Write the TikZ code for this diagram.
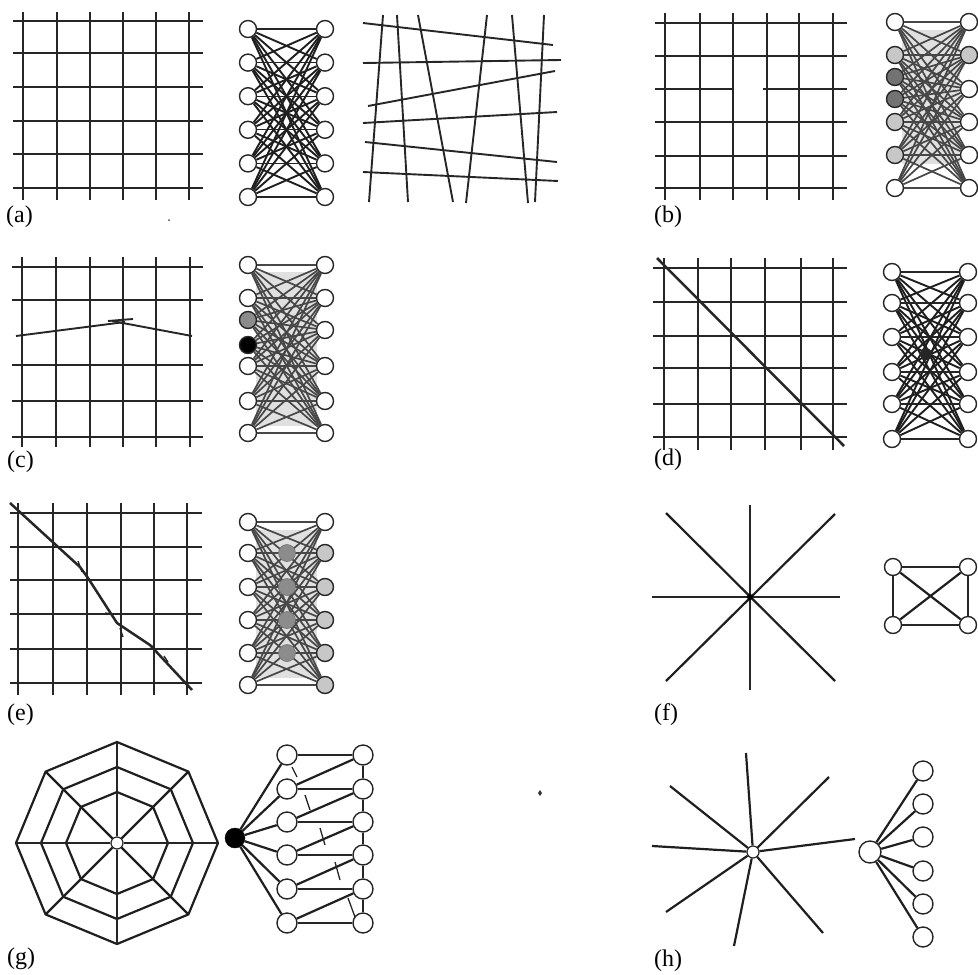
\documentclass[tikz,border=0pt]{standalone}
\usepackage{fontspec}
\setmainfont{Liberation Serif}
\definecolor{lg}{gray}{0.78}
\definecolor{dg}{gray}{0.45}
\definecolor{mg}{gray}{0.55}
\definecolor{bgg}{gray}{0.88}
\begin{document}
\begin{tikzpicture}[x=1pt,y=-1pt,
  gl/.style={line width=1.9pt, black!85},
  nd/.style={circle, draw=black!85, line width=1.4pt, fill=white, minimum size=17pt, inner sep=0pt},
  ed/.style={line width=1.9pt, black!88},
  edthin/.style={line width=1.1pt, black!85},
  ged/.style={line width=1.7pt, black!72},
  thk/.style={line width=2.2pt, black!88},
  thn/.style={line width=1.3pt, black!85},
  lbl/.style={font=\fontsize{24}{24}\selectfont, inner sep=0pt, anchor=west}]
\useasboundingbox (0,0) rectangle (978,975);

% ---------------- (a) ----------------
\foreach \x in {23,57,90,123,156,189} \draw[gl] (\x,12) -- (\x,200);
\foreach \y in {21,53,87,121,154,188} \draw[gl] (13,\y) -- (203,\y);
\foreach \i in {1,...,6} {
  \pgfmathsetmacro\yy{29+(\i-1)*33.6}
  \node[nd] (aL\i) at (248,\yy) {};
  \node[nd] (aR\i) at (325,\yy) {};
}
\foreach \i in {1,...,6}{\foreach \j in {1,...,6}{%
  \ifnum\i=\j \draw[edthin] (aL\i)--(aR\j); \else \draw[ed] (aL\i)--(aR\j); \fi}}
% skewed lines
\draw[gl] (363,23) -- (553,45);
\draw[gl] (363,63) -- (561,60);
\draw[gl] (368,106) -- (555,71);
\draw[gl] (363,123) -- (557,112);
\draw[gl] (365,142) -- (557,162);
\draw[gl] (363,172) -- (558,181);
\draw[gl] (383,15) -- (369,202);
\draw[gl] (397,15) -- (408,202);
\draw[gl] (418,15) -- (453,202);
\draw[gl] (487,15) -- (466,203);
\draw[gl] (512,15) -- (528,203);
\draw[gl] (544,15) -- (535,202);
\fill[black!70] (169,220) circle (1pt);
\node[lbl] (la) at (6,217) {(a)};

% ---------------- (b) ----------------
\foreach \x in {665,700,733,767,799,833} \draw[gl] (\x,13) -- (\x,200);
\foreach \y in {23,56,122,156,188} \draw[gl] (655,\y) -- (847,\y);
\draw[gl] (655,89) -- (734,89);
\draw[gl] (763,89) -- (847,89);
\fill[bgg] (902,30) rectangle (960,164);
\foreach \y/\c [count=\i] in {22/white,55/lg,77/dg,99/dg,122/lg,155/lg,188/white}
  \node[nd,fill=\c] (bL\i) at (895,\y) {};
\foreach \y/\c [count=\i] in {22/white,55/lg,89/white,122/white,155/white,188/white}
  \node[nd,fill=\c] (bR\i) at (969,\y) {};
\foreach \i in {1,...,7}{\foreach \j in {1,...,6}{\draw[ged] (bL\i)--(bR\j);}}
\node[lbl] (lb) at (654,217) {(b)};

% ---------------- (c) ----------------
\foreach \x in {22,56,90,123,156,190} \draw[gl] (\x,257) -- (\x,447);
\foreach \y in {267,300,365,401,437} \draw[gl] (12,\y) -- (203,\y);
\draw[gl] (16,336) -- (125,322);
\draw[gl] (112,321) -- (192,336);
\draw[gl] (108,321) -- (133,319);
\fill[bgg] (256,272) rectangle (317,426);
\foreach \y/\c [count=\i] in {265/white,298/white,320/mg,345/black,366/white,401/white,433/white}
  \node[nd,fill=\c] (cL\i) at (248,\y) {};
\foreach \y [count=\i] in {265,298,330,366,401,433}
  \node[nd] (cR\i) at (325,\y) {};
\foreach \i in {1,...,7}{\foreach \j in {1,...,6}{\draw[ged] (cL\i)--(cR\j);}}
\node[lbl] (lc) at (7,462) {(c)};

% ---------------- (d) ----------------
\foreach \x in {664,698,731,765,801,833} \draw[gl] (\x,258) -- (\x,450);
\foreach \y in {268,302,336,368,404,437} \draw[gl] (653,\y) -- (847,\y);
\draw[line width=2.5pt, black!85] (657,258) -- (844,446);
\foreach \y [count=\i] in {272,303,337,372,404,439} {
  \node[nd] (dL\i) at (892,\y) {};
  \node[nd] (dR\i) at (968,\y) {};
}
\foreach \i in {1,...,6}{\foreach \j in {1,...,6}{%
  \ifnum\i=\j \draw[edthin] (dL\i)--(dR\j); \else \draw[ed] (dL\i)--(dR\j); \fi}}
\node[circle, fill=black!85, minimum size=12pt, inner sep=0pt] (dblob) at (926,354) {};
\node[lbl] (ld) at (654,460) {(d)};

% ---------------- (e) ----------------
\foreach \x in {18,53,87,121,154,187} \draw[gl] (\x,503) -- (\x,695);
\foreach \y in {513,547,580,614,649,683} \draw[gl] (10,\y) -- (202,\y);
\draw[line width=2.5pt, black!85, line join=round] (10,503) -- (80,567) -- (88,578) -- (117,623) -- (150,645) -- (192,690);
\draw[thn] (78,561) -- (82,572);
\draw[thn] (105,613) -- (114,614);
\draw[thn] (120,628) -- (123,637);
\draw[thn] (146,643) -- (154,647);
\draw[thn] (164,656) -- (168,662);
\fill[bgg] (256,530) rectangle (317,678);
\foreach \y/\c [count=\i] in {522/white,553/lg,587/lg,620/lg,653/lg,685/lg} {
  \node[nd] (eL\i) at (248,\y) {};
  \node[nd,fill=\c] (eR\i) at (325,\y) {};
}
\foreach \i in {1,...,6}{\foreach \j in {1,...,6}{\draw[ged] (eL\i)--(eR\j);}}
\foreach \y [count=\i] in {553,587,620,653}
  \node[circle, fill=mg, draw=mg!80!black, line width=0.6pt, minimum size=17pt, inner sep=0pt] (eM\i) at (287,\y) {};
\node[lbl] (le) at (7,715) {(e)};

% ---------------- (f) ----------------
\coordinate (fS) at (750,597);
\coordinate (fN) at (750,505);
\coordinate (fSo) at (750,690);
\coordinate (fW) at (652,597);
\coordinate (fE) at (840,597);
\coordinate (fNW) at (666,513);
\coordinate (fSE) at (835,681);
\coordinate (fNE) at (835,514);
\coordinate (fSW) at (666,681);
\draw[thn] (fN) -- (fSo);
\draw[thn] (fW) -- (fE);
\draw[thk] (fNW) -- (fSE);
\draw[thk] (fNE) -- (fSW);
\fill[black] (fS) circle (3pt);
\node[nd] (f1) at (893,567) {};
\node[nd] (f2) at (968,567) {};
\node[nd] (f3) at (893,625) {};
\node[nd] (f4) at (968,625) {};
\draw[thn] (f1) -- (f2);
\draw[thn] (f3) -- (f4);
\draw[thn] (f1) -- (f3);
\draw[thn] (f2) -- (f4);
\draw[thk] (f1) -- (f4);
\draw[thk] (f2) -- (f3);
\node[lbl] (lf) at (654,715) {(f)};

% ---------------- (g) ----------------
\begin{scope}[shift={(117,843)}]
  \foreach \r in {101,76,51}
    \draw[thk, line join=round] (0:\r) -- (45:\r) -- (90:\r) -- (135:\r) -- (180:\r) -- (225:\r) -- (270:\r) -- (315:\r) -- cycle;
  \foreach \k in {0,...,7} {
    \pgfmathsetmacro\ang{\k*45}
    \coordinate (gO\k) at (\ang:101);
  }
\end{scope}
\node[circle, draw=black!85, line width=1.2pt, fill=white, minimum size=12pt, inner sep=0pt] (gC) at (117,843) {};
\foreach \k in {0,2,4,6} \draw[thn] (gC) -- (gO\k);
\foreach \k in {1,3,5,7} \draw[thk] (gC) -- (gO\k);
\node[circle, fill=black, draw=black, minimum size=20pt, inner sep=0pt] (gB) at (235,838) {};
\foreach \y [count=\i] in {755,789,822,855,889,923} {
  \node[nd, minimum size=20pt] (gL\i) at (287,\y) {};
  \node[nd, minimum size=20pt] (gR\i) at (363,\y) {};
}
\foreach \i in {1,...,6} {
  \draw[thk] (gB) -- (gL\i);
  \draw[thn] (gL\i) -- (gR\i);
}
\foreach \i/\j in {2/1,3/2,4/3,5/4,6/5} {
  \draw[thk] (gL\i) -- (gR\j);
  \draw[thn] (gR\j) -- (gR\i);
}
\draw[thn] (292,767) -- (297,777);
\draw[thn] (305,795) -- (310,810);
\draw[thn] (320,828) -- (325,845);
\draw[thn] (335,862) -- (340,880);
\draw[thn] (348,898) -- (355,917);
\fill[black!80] (540,790) -- (542,793) -- (540,796) -- (538,793) -- cycle;
\node[lbl] (lg) at (7,959) {(g)};

% ---------------- (h) ----------------
\node[circle, draw=black!85, line width=1.2pt, fill=white, minimum size=12pt, inner sep=0pt] (hS) at (753,852) {};
\foreach \x/\y [count=\k] in {746/753,829/777,855/839,823/933,734/946,666/912,652/846,670/786}
  \coordinate (hR\k) at (\x,\y);
\foreach \k in {1,...,8} \draw[thk] (hS) -- (hR\k);
\node[nd, minimum size=22pt] (hC) at (870,852) {};
\foreach \y [count=\i] in {771,804,837,871,904,937} {
  \node[nd, minimum size=20pt] (hN\i) at (923,\y) {};
  \draw[thk] (hC) -- (hN\i);
}
\node[lbl] (lh) at (654,961) {(h)};
\end{tikzpicture}
\end{document}
